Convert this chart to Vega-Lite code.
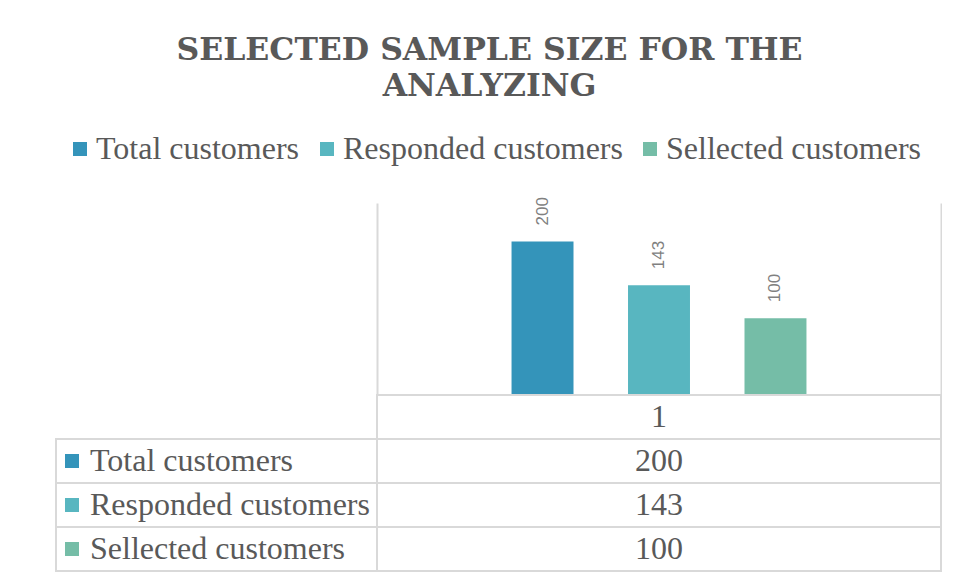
{
  "$schema": "https://vega.github.io/schema/vega-lite/v6.json",
  "background": "white",
  "padding": {"left": 55, "top": 34, "right": 0, "bottom": 0},
  "autosize": {"type": "pad"},
  "title": {
    "text": ["SELECTED SAMPLE SIZE FOR THE", "ANALYZING"],
    "font": "DejaVu Serif",
    "fontWeight": "bold",
    "fontSize": 31.5,
    "color": "#595959",
    "lineHeight": 36,
    "anchor": "middle",
    "frame": "bounds",
    "dx": -9,
    "offset": 31
  },
  "datasets": {
    "main": [
      {"group": "1", "series": "Total customers", "value": 200},
      {"group": "1", "series": "Responded customers", "value": 143},
      {"group": "1", "series": "Sellected customers", "value": 100}
    ]
  },
  "data": {"name": "main"},
  "columns": 2,
  "spacing": 0,
  "bounds": "flush",
  "config": {
    "view": {"stroke": null},
    "axis": {"minExtent": 0},
    "legend": {
      "orient": "none",
      "legendX": 8,
      "legendY": -70,
      "direction": "horizontal",
      "columns": 3,
      "title": null,
      "padding": 0,
      "symbolType": "square",
      "symbolSize": 196,
      "symbolStrokeWidth": 0,
      "symbolOpacity": 1,
      "labelFont": "Liberation Serif",
      "labelFontSize": 32,
      "labelColor": "#595959",
      "labelOffset": 0,
      "columnPadding": 11,
      "labelLimit": 400
    }
  },
  "concat": [
    {
      "width": 321,
      "height": 192,
      "data": {"values": [{}]},
      "mark": {"type": "text", "text": ""},
      "encoding": {}
    },
    {
      "width": 564,
      "height": 192,
      "encoding": {
        "x": {"field": "group", "type": "nominal", "scale": {"paddingInner": 0, "paddingOuter": 0.307}, "axis": null},
        "xOffset": {"field": "series", "type": "nominal", "scale": {"domain": ["Total customers", "Responded customers", "Sellected customers"], "paddingInner": 0.468, "paddingOuter": 0.234}},
        "y": {"field": "value", "type": "quantitative", "scale": {"domain": [0, 250]}}
      },
      "layer": [
        {
          "mark": {"type": "bar"},
          "encoding": {
            "y": {"field": "value", "type": "quantitative", "scale": {"domain": [0, 250]},
              "axis": {"orient": "left", "domain": true, "domainColor": "#d9d9d9", "domainWidth": 2, "labels": false, "ticks": false, "grid": false, "title": null}},
            "color": {"field": "series", "type": "nominal",
              "scale": {"domain": ["Total customers", "Responded customers", "Sellected customers"], "range": ["#3494BA", "#58B6C0", "#75BDA7"]}}
          }
        },
        {
          "mark": {"type": "text", "angle": 270, "align": "left", "baseline": "middle", "dx": 16, "font": "Liberation Sans", "fontSize": 17, "fill": "#808080"},
          "encoding": {
            "y": {"field": "value", "type": "quantitative", "scale": {"domain": [0, 250]},
              "axis": {"orient": "right", "domain": true, "domainColor": "#d9d9d9", "domainWidth": 2, "labels": false, "ticks": false, "grid": false, "title": null}},
            "text": {"field": "value", "type": "quantitative"}
          }
        }
      ],
      "resolve": {"axis": {"y": "independent"}}
    },
    {
      "width": 321,
      "height": 176,
      "encoding": {
        "y": {"field": "series", "type": "nominal", "scale": {"domain": ["1", "Total customers", "Responded customers", "Sellected customers"], "paddingInner": 0, "paddingOuter": 0}, "axis": null}
      },
      "layer": [
        {
          "mark": {"type": "rect", "fill": "white", "stroke": "#d9d9d9", "strokeWidth": 2},
          "encoding": {"x": {"value": 0}, "x2": {"value": "width"}}
        },
        {
          "mark": {"type": "point", "shape": "square", "filled": true, "size": 196, "opacity": 1, "strokeWidth": 0},
          "encoding": {
            "x": {"value": 16},
            "color": {"field": "series", "type": "nominal",
              "scale": {"domain": ["Total customers", "Responded customers", "Sellected customers"], "range": ["#3494BA", "#58B6C0", "#75BDA7"]}}
          }
        },
        {
          "mark": {"type": "text", "align": "left", "baseline": "middle", "font": "Liberation Serif", "fontSize": 32, "fill": "#595959"},
          "encoding": {"x": {"value": 34}, "text": {"field": "series", "type": "nominal"}}
        }
      ]
    },
    {
      "width": 564,
      "height": 176,
      "layer": [
        {
          "transform": [{"aggregate": [{"op": "count", "as": "n"}], "groupby": ["group"]}],
          "encoding": {
            "y": {"field": "group", "type": "nominal", "scale": {"domain": ["1", "Total customers", "Responded customers", "Sellected customers"], "paddingInner": 0, "paddingOuter": 0}, "axis": null}
          },
          "layer": [
            {"mark": {"type": "rect", "fill": "white", "stroke": "#d9d9d9", "strokeWidth": 2}, "encoding": {"x": {"value": 0}, "x2": {"value": "width"}}},
            {"mark": {"type": "text", "align": "center", "baseline": "middle", "font": "Liberation Serif", "fontSize": 32, "fill": "#595959"}, "encoding": {"text": {"field": "group", "type": "nominal"}}}
          ]
        },
        {
          "encoding": {
            "y": {"field": "series", "type": "nominal", "scale": {"domain": ["1", "Total customers", "Responded customers", "Sellected customers"], "paddingInner": 0, "paddingOuter": 0}, "axis": null}
          },
          "layer": [
            {"mark": {"type": "rect", "fill": "white", "stroke": "#d9d9d9", "strokeWidth": 2}, "encoding": {"x": {"value": 0}, "x2": {"value": "width"}}},
            {"mark": {"type": "text", "align": "center", "baseline": "middle", "font": "Liberation Serif", "fontSize": 32, "fill": "#595959"}, "encoding": {"text": {"field": "value", "type": "quantitative"}}}
          ]
        }
      ]
    }
  ]
}
